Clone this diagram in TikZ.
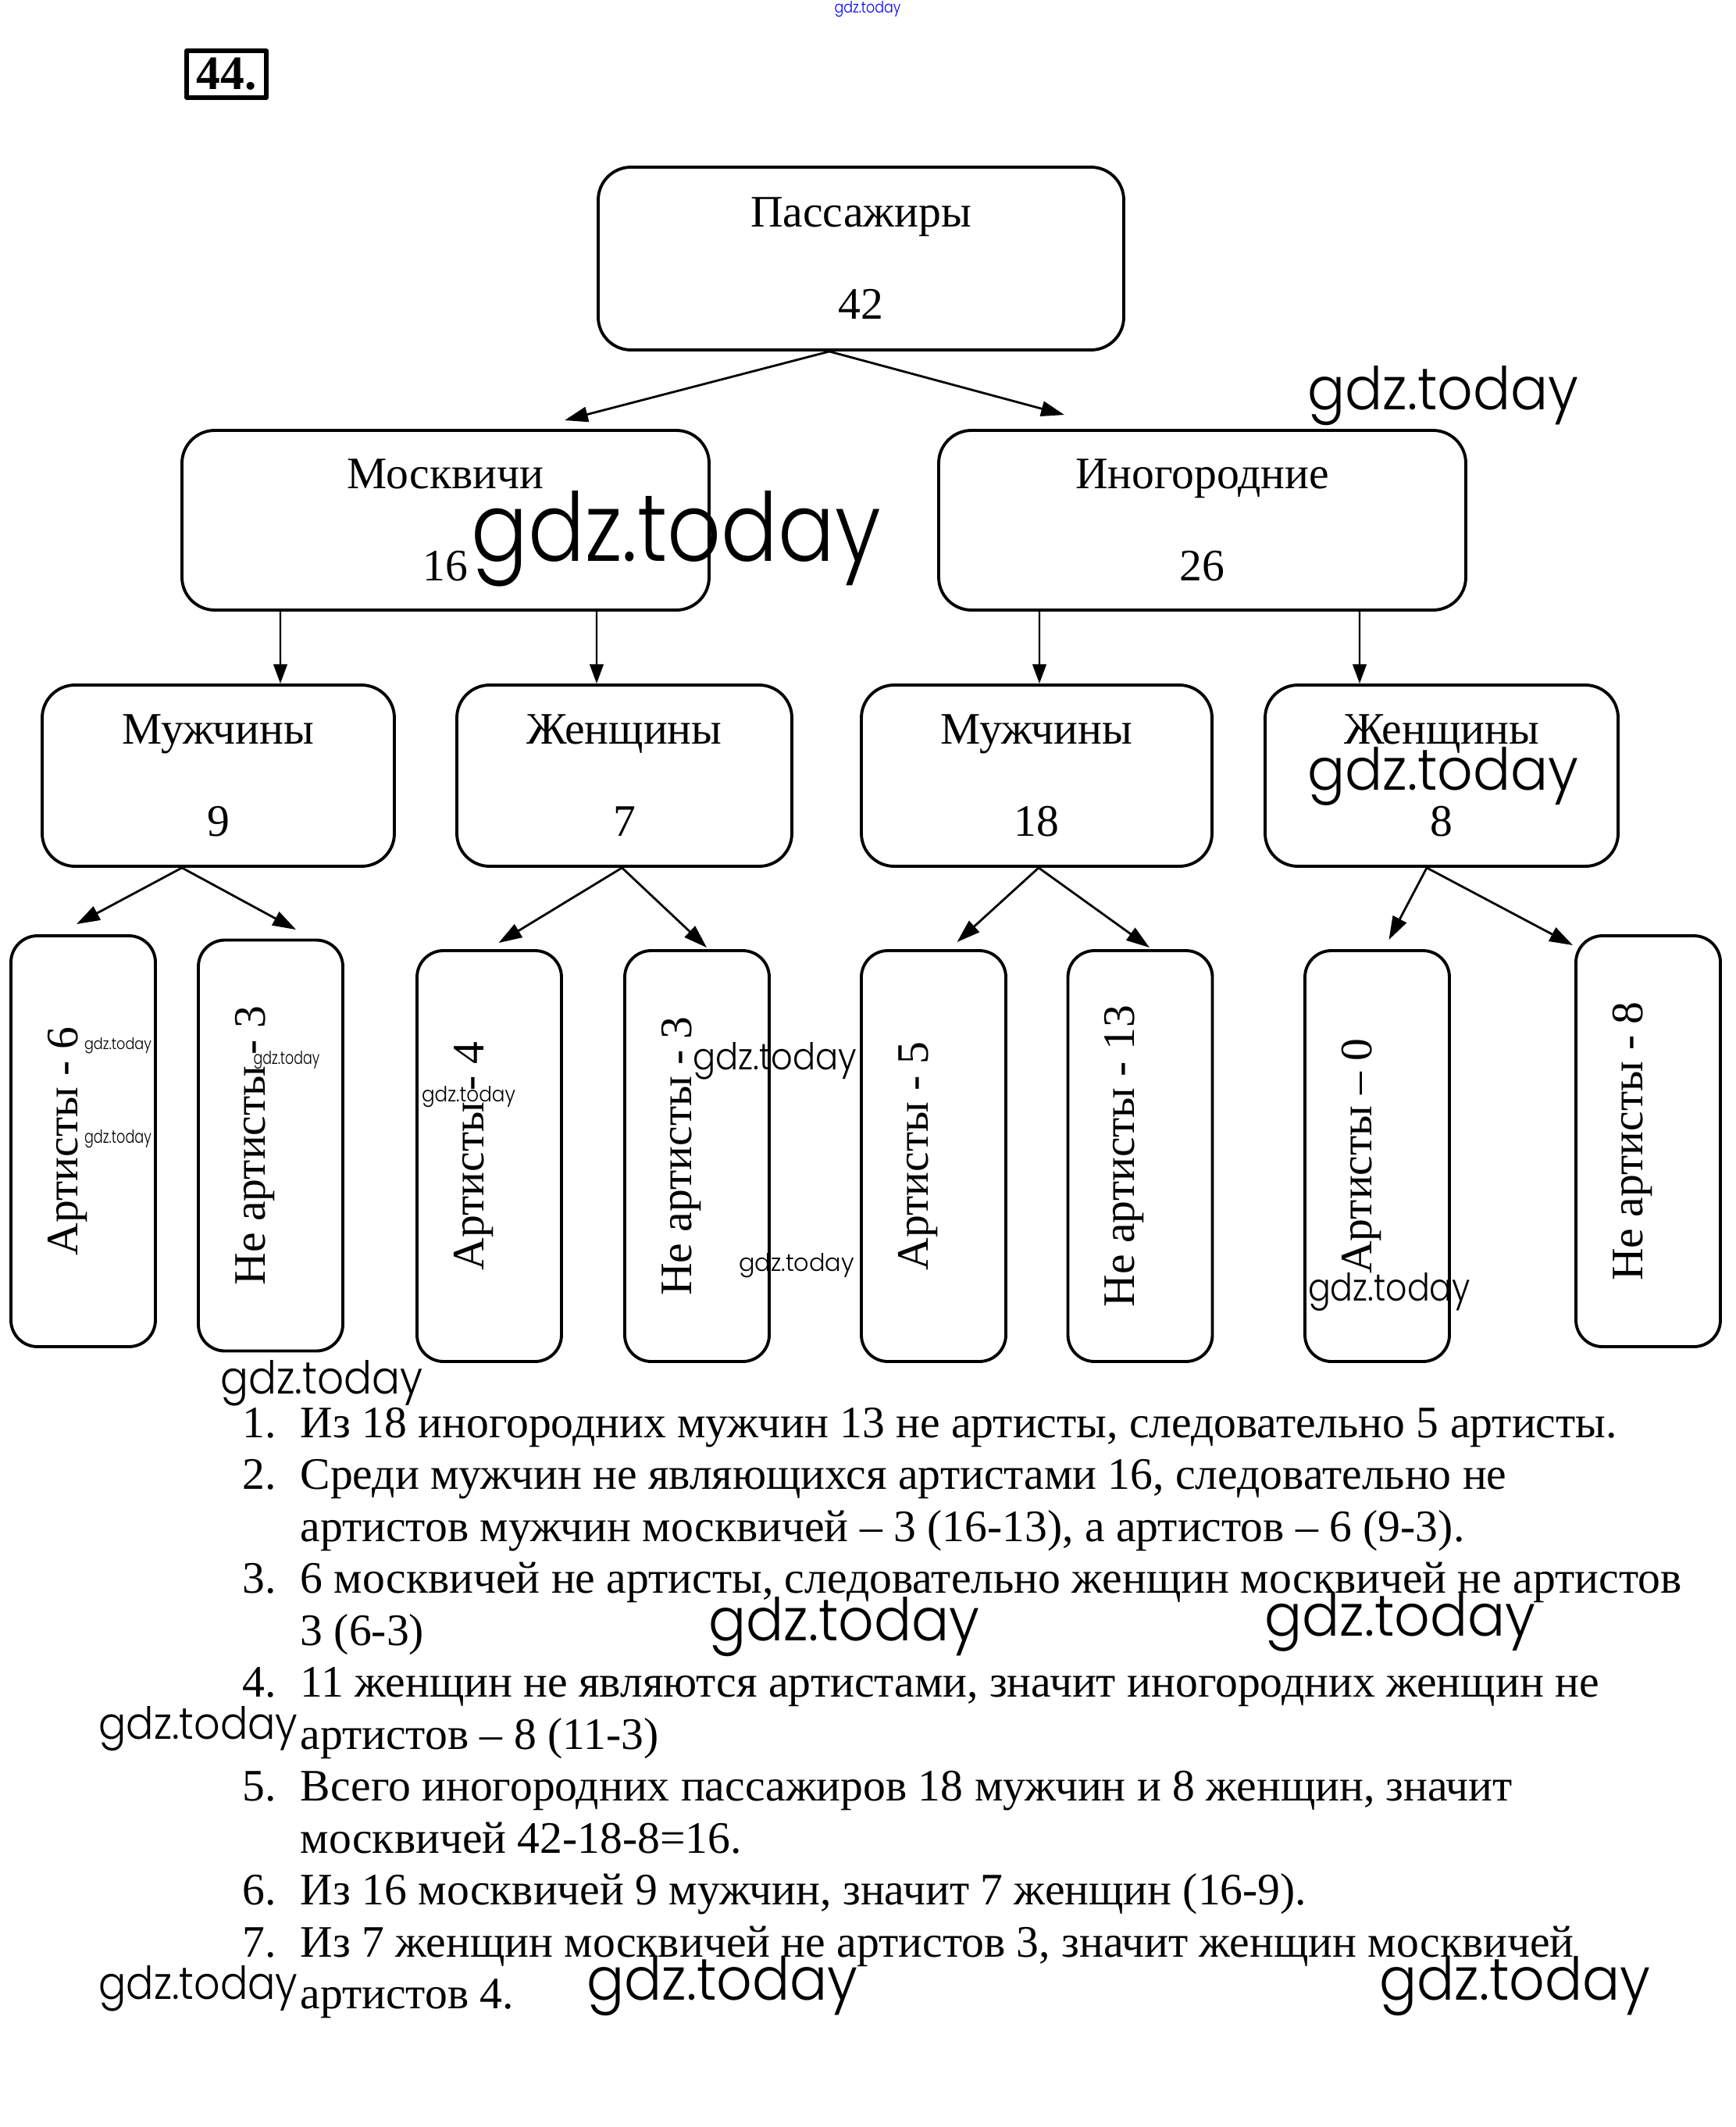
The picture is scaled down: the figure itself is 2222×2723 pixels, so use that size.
\documentclass[tikz,border=0pt]{standalone}
\usepackage{fontspec}
\setmainfont{Liberation Serif}
\newfontfamily\wmfont{Poppins Light}
\usepackage{tikz}
\usetikzlibrary{arrows.meta}
\tikzset{
  every picture/.style={line join=round, line cap=round, >={Triangle[length=7pt,width=5pt]}},
  txt/.style={font=\fontsize{16.4pt}{19.7pt}\selectfont},
  box/.style={txt, draw, line width=1.1pt, rounded corners=4.2mm, align=center, inner sep=0pt},
  leaf/.style={draw, line width=1.1pt, rounded corners=3.4mm, inner sep=0pt,
    minimum width=18.5mm, minimum height=52.6mm},
  leaftext/.style={txt, rotate=90, inner sep=0pt},
  sol/.style={txt, anchor=base west, inner sep=0pt},
  diag/.style={-{Triangle[length=8.5pt,width=5.5pt]}, line width=0.8pt},
  vert/.style={->, line width=0.6pt},
  wm/.style={inner sep=0pt},
}
\newcommand{\wmark}[2]{\resizebox{#1 mm}{#2 mm}{\wmfont gdz.today}}

\begin{document}
\begin{tikzpicture}[x=0.1mm,y=-0.1mm]
\useasboundingbox (0,0) rectangle (2222,2723);

% task number
\node[draw, line width=1.6pt, minimum width=10.2mm, minimum height=6.0mm, inner sep=0pt,
  font=\fontsize{17.5pt}{20pt}\selectfont\bfseries] (num) at (290,95) {44.};

% tree
\node[box, minimum width=67.3mm, minimum height=23.4mm] (pass) at (1102.5,331) {Пассажиры\\[13.9pt]42};
\node[box, minimum width=67.5mm, minimum height=23.0mm] (mos) at (570.5,666) {Москвичи\\[13.9pt]16};
\node[box, minimum width=67.5mm, minimum height=23.0mm] (ino) at (1539.5,666) {Иногородние\\[13.9pt]26};
\node[box, minimum width=45.1mm, minimum height=23.2mm] (mosM) at (279.5,993) {Мужчины\\[13.9pt]9};
\node[box, minimum width=42.9mm, minimum height=23.2mm] (mosW) at (799.5,993) {Женщины\\[13.9pt]7};
\node[box, minimum width=44.9mm, minimum height=23.2mm] (inoM) at (1327.5,993) {Мужчины\\[13.9pt]18};
\node[box, minimum width=45.2mm, minimum height=23.2mm] (inoW) at (1846,993) {Женщины\\[13.9pt]8};

\foreach \nm/\x/\y/\lbl in {mosMa/106.5/1461/{Артисты - 6}, mosMn/346.5/1466.5/{Не артисты - 3},
  mosWa/626.5/1480/{Артисты - 4}, mosWn/892.5/1480/{Не артисты - 3},
  inoMa/1195.5/1480/{Артисты - 5}, inoMn/1460/1480/{Не артисты - 13},
  inoWa/1763.5/1480/{Артисты – 0}, inoWn/2110.5/1461/{Не артисты - 8}}{
  \node[leaf] (\nm) at (\x,\y) {};
  \node[leaftext] (\nm-t) at ([xshift=-2mm]\nm.center) {\lbl};
}

\draw[diag] ([xshift=-4.05mm]pass.south) -- ([shift={(152.5,-11)}]mos.north);
\draw[diag] ([xshift=-4.05mm]pass.south) -- ([shift={(-176.5,-18)}]ino.north);

\draw[vert] ([xshift=-21.15mm]mos.south) -- ([xshift=7.95mm]mosM.north);
\draw[vert] ([xshift=19.35mm]mos.south) -- ([xshift=-3.55mm]mosW.north);
\draw[vert] ([xshift=-20.85mm]ino.south) -- ([xshift=0.35mm]inoM.north);
\draw[vert] ([xshift=20.15mm]ino.south) -- ([xshift=-10.5mm]inoW.north);

\draw[diag] ([xshift=-4.65mm]mosM.south) -- ([shift={(-8.5,-13)}]mosMa.north);
\draw[diag] ([xshift=-4.65mm]mosM.south) -- ([shift={(32.5,-11.5)}]mosMn.north);
\draw[diag] ([xshift=-0.3mm]mosW.south) -- ([shift={(12,-8)}]mosWa.north);
\draw[diag] ([xshift=-0.3mm]mosW.south) -- ([shift={(12.5,-2)}]mosWn.north);
\draw[diag] ([xshift=0.25mm]inoM.south) -- ([shift={(30,-9)}]inoMa.north);
\draw[diag] ([xshift=0.25mm]inoM.south) -- ([shift={(12,-2)}]inoMn.north);
\draw[diag] ([xshift=-1.9mm]inoW.south) -- ([shift={(15,-12)}]inoWa.north);
\draw[diag] ([xshift=-1.9mm]inoW.south) -- ([shift={(-96.5,14)}]inoWn.north);

% solution
\foreach \i/\n in {0/1., 1/2., 3/3., 5/4., 7/5., 9/6., 10/7.}
  \node[sol] (n\i) at (310,1840+66.5*\i) {\n};
\foreach \i/\line in {
  0/{Из 18 иногородних мужчин 13 не артисты, следовательно 5 артисты.},
  1/{Среди мужчин не являющихся артистами 16, следовательно не},
  2/{артистов мужчин москвичей – 3 (16-13), а артистов – 6 (9-3).},
  3/{6 москвичей не артисты, следовательно женщин москвичей не артистов},
  4/{3 (6-3)},
  5/{11 женщин не являются артистами, значит иногородних женщин не},
  6/{артистов – 8 (11-3)},
  7/{Всего иногородних пассажиров 18 мужчин и 8 женщин, значит},
  8/{москвичей 42-18-8=16.},
  9/{Из 16 москвичей 9 мужчин, значит 7 женщин (16-9).},
  10/{Из 7 женщин москвичей не артистов 3, значит женщин москвичей},
  11/{артистов 4.}}
  \node[sol] (l\i) at (384,1840+66.5*\i) {\line};

% watermarks
\node[wm, text=blue] (wm0) at (1111,12) {\wmark{8.5}{1.5}};
\foreach \x/\y/\w/\h [count=\k] in {1848/507/34.7/5.6, 866/690/52.4/9.0, 1848/994/34.7/5.5,
  151/1339/8.6/1.5, 151/1458/8.6/1.7, 367/1357/8.5/1.7, 600/1404/12.0/2.0,
  992/1358/21.0/3.5, 1020/1620/14.8/2.3, 1779/1654/20.8/3.6, 412/1771/25.9/4.3,
  1081/2083/34.7/5.6, 1793/2077/34.7/5.5, 254/2213/25.5/4.2, 254/2546/25.5/4.3,
  925/2543/34.7/5.6, 1940/2543/34.7/5.6}
  \node[wm] (wm\k) at (\x,\y) {\wmark{\w}{\h}};
\end{tikzpicture}
\end{document}
